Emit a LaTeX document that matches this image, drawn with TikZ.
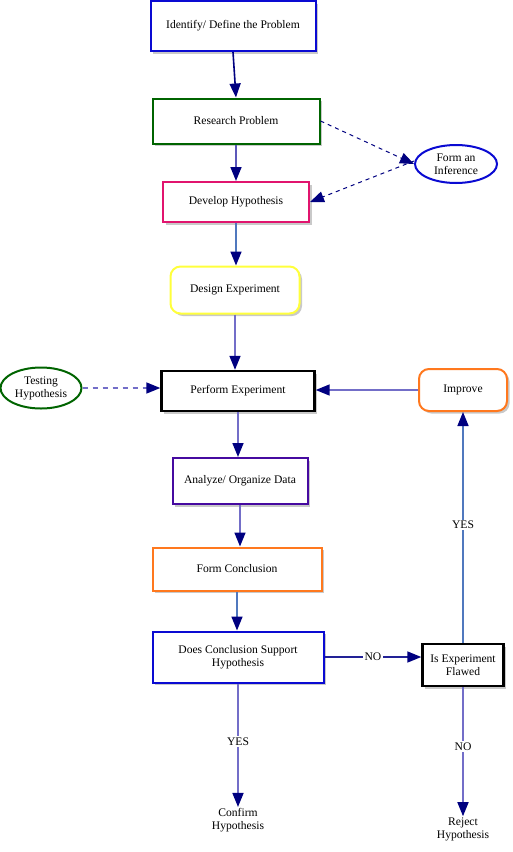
\documentclass[tikz,border=0pt]{standalone}
\usepackage{fontspec}
\setmainfont{Liberation Serif}
\usetikzlibrary{arrows.meta,shapes.geometric,shadows}
\definecolor{bxblue}{RGB}{10,10,210}
\definecolor{bxgreen}{RGB}{0,100,0}
\definecolor{bxpink}{RGB}{225,20,110}
\definecolor{bxyellow}{RGB}{255,255,60}
\definecolor{bxorange}{RGB}{255,120,30}
\definecolor{bxpurple}{RGB}{70,10,160}
\definecolor{navyc}{RGB}{0,0,128}
\definecolor{linec}{RGB}{115,110,200}
\definecolor{linesteel}{RGB}{80,120,190}
\tikzset{
  x=1pt,y=-1pt,
  every node/.style={font=\fontsize{11.6}{13}\selectfont, align=center},
  shad/.style={drop shadow={shadow xshift=2.5pt,shadow yshift=-2.5pt,fill=black!35,opacity=0.6}},
  boxn/.style={draw, line width=2pt, fill=white, shad, inner sep=0pt},
  ellipn/.style={ellipse, draw, line width=2pt, fill=white, inner sep=0pt},
  conn/.style={line width=1.6pt, draw=linec, -{Triangle[length=14pt,width=11pt,fill=navyc,color=navyc]}},
  dconn/.style={conn, dash pattern=on 4pt off 4pt, draw=navyc, line width=1pt},
  lbl/.style={fill=white, inner sep=1.5pt},
  plain/.style={inner sep=1pt}
}
\begin{document}
\begin{tikzpicture}
\useasboundingbox (0,0) rectangle (512,852);
\fill[white] (0,0) rectangle (512,852);
% nodes
\node[boxn, draw=bxblue, minimum width=165, minimum height=50] (idp) at (233,26) {Identify/ Define the Problem};
\node[boxn, draw=bxgreen, minimum width=167, minimum height=45] (rp) at (236,121) {Research Problem};
\node[boxn, draw=bxpink, minimum width=146, minimum height=40] (dh) at (236,202) {Develop Hypothesis};
\node[ellipn, draw=bxblue, minimum width=82, minimum height=38] (inf) at (456,164) {Form an\\Inference};
\node[boxn, draw=bxyellow, rounded corners=10pt, minimum width=129, minimum height=47] (de) at (235,290) {Design Experiment};
\node[boxn, draw=black, line width=2.4pt, minimum width=153, minimum height=40] (pe) at (238,391) {Perform Experiment};
\node[ellipn, draw=bxgreen, minimum width=81, minimum height=41] (th) at (41,388) {Testing\\Hypothesis};
\node[boxn, draw=bxorange, rounded corners=10pt, minimum width=88, minimum height=42] (imp) at (463,390) {Improve};
\node[boxn, draw=bxpurple, minimum width=135, minimum height=46] (an) at (240,481) {Analyze/ Organize Data};
\node[boxn, draw=bxorange, minimum width=169, minimum height=43] (fc) at (237,569) {Form Conclusion};
\node[boxn, draw=bxblue, minimum width=171, minimum height=51] (dc) at (238,657) {Does Conclusion Support\\Hypothesis};
\node[boxn, draw=black, line width=2.4pt, minimum width=81, minimum height=42] (ief) at (463,665) {Is Experiment\\Flawed};
\node[plain] (conf) at (238,820) {Confirm\\Hypothesis};
\node[plain] (rej) at (463,829) {Reject\\Hypothesis};
% connectors
\draw[conn, draw=navyc] (idp.south) -- (rp.north);
\draw[conn, draw=linec!80!navyc] (rp.south) -- (dh.north);
\draw[dconn] (rp.east) -- (inf.west);
\draw[dconn] ([yshift=3pt]inf.west) -- (dh.east);
\draw[conn, draw=linesteel] (dh.south) -- (dh.south |- de.north);
\draw[conn] (de.south) -- (de.south |- pe.north);
\draw[dconn, draw=linec, line width=1.6pt, dash pattern=on 5pt off 5pt] (th.east) -- (pe.west |- th.east);
\draw[conn] (imp.west) -- (pe.east |- imp.west);
\draw[conn] (pe.south) -- (pe.south |- an.north);
\draw[conn] (an.south) -- (an.south |- fc.north);
\draw[conn, draw=linesteel] (fc.south) -- (fc.south |- dc.north);
\draw[conn, draw=navyc!70!linec] (dc.east) -- node[lbl, pos=0.5] {NO} (dc.east -| ief.west);
\draw[conn, draw=linesteel] (ief.north) -- node[lbl, pos=0.51] {YES} (imp.south);
\draw[conn] (dc.south) -- node[lbl, pos=0.47] {YES} (conf.north);
\draw[conn] (ief.south) -- node[lbl, pos=0.46] {NO} (rej.north);
\end{tikzpicture}
\end{document}
